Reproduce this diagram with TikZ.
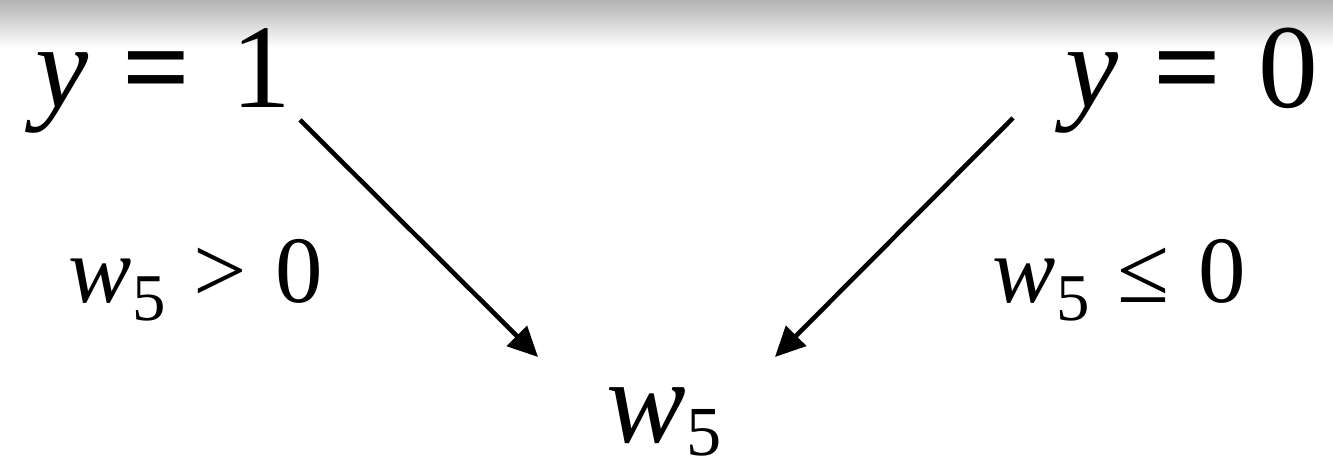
\documentclass[tikz,border=0pt]{standalone}
\usepackage{fontspec}
\setmainfont{Liberation Serif}
\usetikzlibrary{arrows.meta}

\newcommand{\bigw}{\textit{w}\raisebox{-3.5pt}{\fontsize{20}{24}\selectfont 5}}
\newcommand{\smallw}{\textit{w}\raisebox{-5pt}{\fontsize{19}{22}\selectfont 5}}

\tikzset{
  big/.style={font=\fontsize{34}{40}\selectfont, inner sep=0pt, anchor=base west},
  small/.style={font=\fontsize{27}{32}\selectfont, inner sep=0pt, anchor=base west},
  link/.style={line width=1.3pt, -{Triangle[length=0.3cm, width=0.28cm]}}
}

\begin{document}
\begin{tikzpicture}[x=0.01cm, y=-0.01cm]
  \useasboundingbox (0,0) rectangle (1333,468);
  % shadow along the top edge
  \shade[top color=black!30, bottom color=white] (0,0) rectangle (1333,48);

  \node[big] (yone) at (35,108) {\textit{y}\hspace{0.28em}\textbf{=}\hspace{0.34em}1};
  \node[big] (yzero) at (1065,108) {\textit{y}\hspace{0.29em}\textbf{=}\hspace{0.31em}0};
  \node[big] (w) at (606,443) {\bigw};

  \node[small] (pos) at (68,303) {\smallw\hspace{0.3em}>\hspace{0.3em}0};
  \node[small] (neg) at (992,303) {\smallw\hspace{0.3em}≤\hspace{0.3em}0};

  % arrow ends
  \coordinate (fromone) at (300,120);
  \coordinate (fromzero) at (1013,118);
  \coordinate (toleft) at (538,357);
  \coordinate (toright) at (775,357);

  \draw[link] (fromone) -- (toleft);
  \draw[link] (fromzero) -- (toright);
\end{tikzpicture}
\end{document}
